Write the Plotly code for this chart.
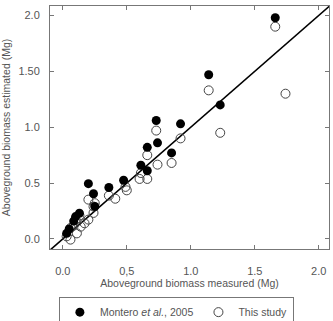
import plotly.graph_objects as go

# Montero et al., 2005 (filled)
x_montero = [1.66, 1.14, 1.23, 0.73, 0.92, 0.74, 0.66, 0.85, 0.61, 0.66, 0.475, 0.36, 0.20, 0.24, 0.25, 0.13, 0.10, 0.085, 0.05, 0.03]
y_montero = [1.98, 1.47, 1.20, 1.06, 1.03, 0.86, 0.82, 0.77, 0.66, 0.61, 0.525, 0.46, 0.495, 0.405, 0.29, 0.23, 0.20, 0.16, 0.09, 0.05]

# This study (open)
x_study = [1.66, 1.14, 1.74, 1.23, 0.73, 0.92, 0.74, 0.66, 0.85, 0.61, 0.66, 0.60, 0.49, 0.50, 0.36, 0.41,
           0.20, 0.24, 0.25, 0.24, 0.13, 0.10, 0.20, 0.06, 0.085, 0.03, 0.06, 0.14, 0.11, 0.17]
y_study = [1.90, 1.33, 1.30, 0.95, 0.97, 0.90, 0.665, 0.75, 0.68, 0.59, 0.537, 0.537, 0.466, 0.435, 0.388, 0.36,
           0.352, 0.29, 0.32, 0.233, 0.21, 0.173, 0.173, 0.098, 0.12, 0.023, -0.006, 0.11, 0.05, 0.14]

x_tickvals = [0, 0.5, 1.0, 1.5, 2.0]
x_ticktext = ["0.0", "0,5", "1.0", "1.5", "2.0"]
y_tickvals = [0, 0.5, 1.0, 1.5, 2.0]
y_ticktext = ["0.0", "0.5", "1.0", "1.50", "2.0"]

line_x = [-0.1, 2.1]
line_y = [-0.1, 2.1]

FONT = "Liberation Sans, Arial, sans-serif"
GRAY = "#555555"

fig = go.Figure()
fig.add_trace(go.Scatter(x=line_x, y=line_y, mode="lines", line=dict(color="black", width=1.6),
                         showlegend=False, hoverinfo="skip"))
fig.add_trace(go.Scatter(x=x_study, y=y_study, mode="markers", name="This study",
                         marker=dict(symbol="circle-open", size=9, color="#444444", line=dict(width=1))))
fig.add_trace(go.Scatter(x=x_montero, y=y_montero, mode="markers", name="Montero <i>et al.</i>, 2005",
                         marker=dict(symbol="circle", size=9, color="black")))

axis_common = dict(showgrid=False, zeroline=False, showline=True, linecolor="#777777", linewidth=1,
                   ticks="inside", ticklen=4, tickcolor="#777777", mirror="ticks",
                   tickfont=dict(family=FONT, size=11, color=GRAY))

fig.update_xaxes(range=[-0.1, 2.08], tickvals=x_tickvals, ticktext=x_ticktext,
                 ticklabelstandoff=12,
                 title=dict(text="Aboveground biomass measured (Mg)", font=dict(family=FONT, size=10.5, color=GRAY),
                            standoff=2),
                 **axis_common)
fig.update_yaxes(range=[-0.09, 2.085], tickvals=y_tickvals, ticktext=y_ticktext,
                 ticklabelstandoff=7,
                 title=dict(text="Aboveground biomass estimated (Mg)", font=dict(family=FONT, size=10.5, color=GRAY),
                            standoff=6),
                 **axis_common)

fig.update_layout(
    width=333, height=321,
    margin=dict(l=50, r=4, t=6, b=72, autoexpand=False),
    plot_bgcolor="white", paper_bgcolor="white",
    showlegend=True,
    legend=dict(orientation="h", x=0.453, xanchor="center", y=-0.196, yanchor="top",
                bordercolor="#777777", borderwidth=1, traceorder="reversed",
                font=dict(family=FONT, size=10.5, color=GRAY), itemwidth=30, tracegroupgap=0),
)

fig.write_html("out.html")
